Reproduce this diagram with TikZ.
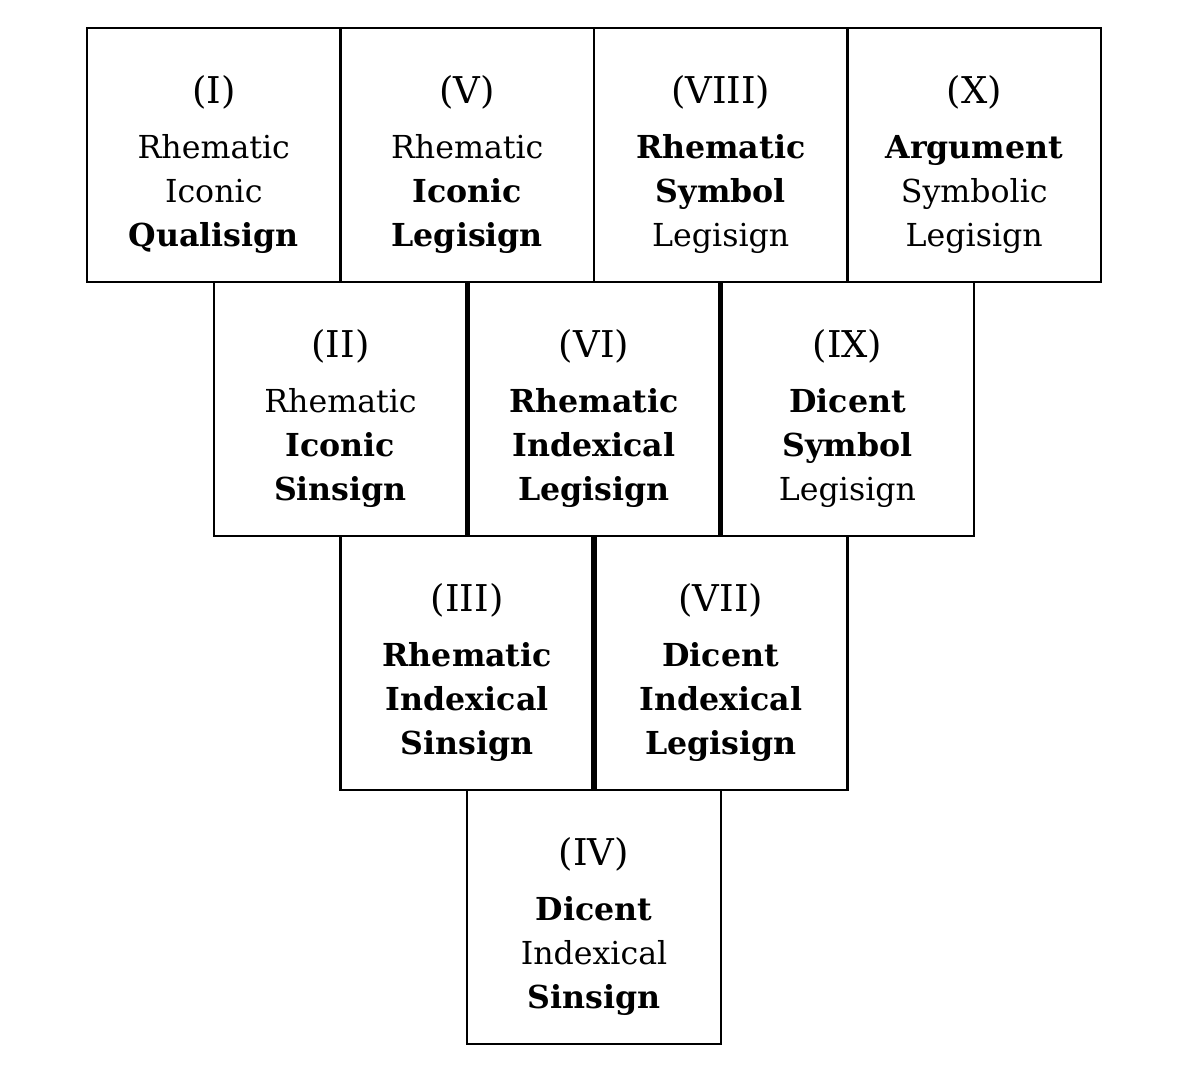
\documentclass[tikz,border=0pt]{standalone}
\usepackage{fontspec}
\setmainfont{DejaVu Serif}
\usetikzlibrary{positioning}

% numeral at the head of each cell, with room above it
\newcommand{\signno}[1]{\rule{0pt}{27pt}{\fontsize{21}{25}\selectfont(#1)}\\[6.5pt]}

\begin{document}
\begin{tikzpicture}[node distance=0cm]
        % Define block styles
        \tikzstyle{sign} = [rectangle, minimum width=5.07cm, minimum height=5.08cm, outer sep=0pt, align=center, text centered, draw=black, line width=1.2pt, font=\fontsize{18}{25}\selectfont]
        \tikzstyle{heavy} = [line width=3pt]

        \useasboundingbox (0,0) rectangle (23.68,21.4);

        % Row 1
        \node (I) [sign] at (4.275,18.3) {\signno{I} Rhematic\\ Iconic\\ \textbf{Qualisign}};
        \node (V) [sign, right=of I] {\signno{V} Rhematic\\ \textbf{Iconic}\\ \textbf{Legisign}};
        \node (VIII) [sign, right=of V] {\signno{VIII} \textbf{Rhematic}\\ \textbf{Symbol}\\ Legisign};
        \node (X) [sign, right=of VIII] {\signno{X} \textbf{Argument}\\ Symbolic\\ Legisign};

        % Row 2
        \node (II) [sign, anchor=north] at (I.south east) {\signno{II} Rhematic\\ \textbf{Iconic}\\ \textbf{Sinsign}};
        \node (VI) [sign, right=of II] {\signno{VI} \textbf{Rhematic}\\ \textbf{Indexical}\\ \textbf{Legisign}};
        \node (IX) [sign, right=of VI] {\signno{IX} \textbf{Dicent}\\ \textbf{Symbol}\\ Legisign};

        % Row 3
        \node (III) [sign, anchor=north] at (II.south east) {\signno{III} \textbf{Rhematic}\\ \textbf{Indexical}\\ \textbf{Sinsign}};
        \node (VII) [sign, right=of III] {\signno{VII} \textbf{Dicent}\\ \textbf{Indexical}\\ \textbf{Legisign}};

        % Row 4
        \node (IV) [sign, anchor=north] at (III.south east) {\signno{IV} \textbf{Dicent}\\ Indexical\\ \textbf{Sinsign}};

        % Heavier rules
        \draw [heavy] (VI.north west) -- (VI.south west);
        \draw [heavy] (IX.north west) -- (IX.south west);
        \draw [heavy] (VII.north west) -- (VII.south west);
    \end{tikzpicture}
\end{document}
